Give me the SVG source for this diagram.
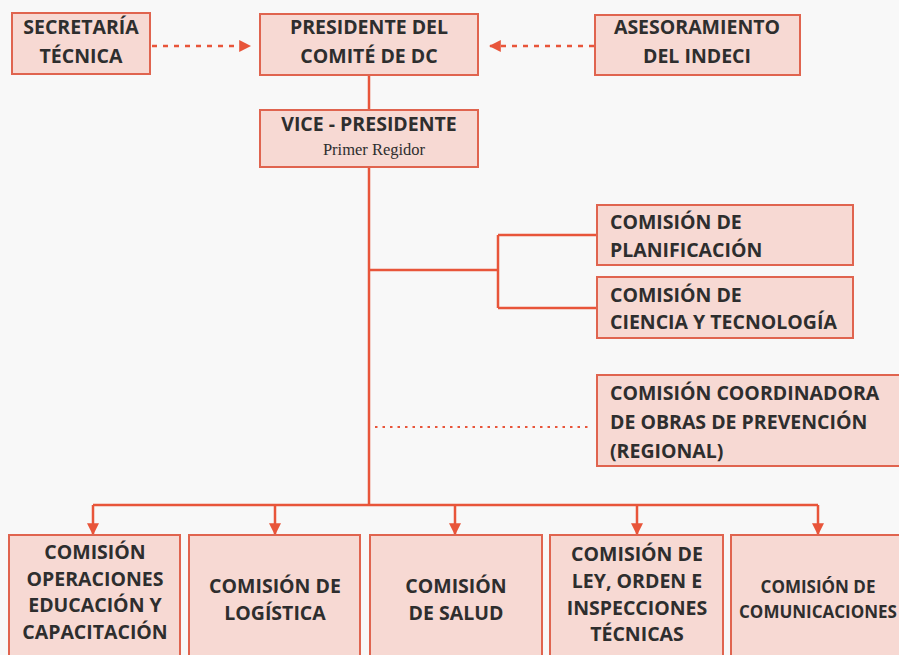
<svg xmlns="http://www.w3.org/2000/svg" width="899" height="655" viewBox="0 0 899 655">
<defs>
<marker id="ad" viewBox="0 0 10 10" refX="9" refY="5" markerWidth="12" markerHeight="12" orient="auto" markerUnits="userSpaceOnUse">
<path d="M0,0 L10,5 L0,10 z" fill="#e8553a"/>
</marker>
</defs>
<style>
.box{fill:#f7d9d3;stroke:#e0644f;stroke-width:2}
.t{font-family:"Open Sans","Liberation Sans",sans-serif;font-weight:bold;font-size:19.5px;fill:#2e2e2e;text-anchor:middle}
.l{text-anchor:start}
.s{font-size:17px}
.sub{font-family:"Liberation Serif",serif;font-size:16.5px;fill:#2e2e2e;text-anchor:middle}
.ln{fill:none;stroke:#e8553a;stroke-width:2.5}
.dash{fill:none;stroke:#e8553a;stroke-width:2.5;stroke-dasharray:5 6}
.dot{fill:none;stroke:#e8553a;stroke-width:2;stroke-dasharray:2.5 5}
</style>
<rect width="899" height="655" fill="#f8f8f8"/>
<g id="connectors">
<path class="dash" d="M152,46 H250" marker-end="url(#ad)"/>
<path class="dash" d="M594,46 H490" marker-end="url(#ad)"/>
<path class="ln" d="M369,76 V109"/>
<path class="ln" d="M369,168 V505"/>
<path class="ln" d="M369,270 H498 M498,235 V308 M498,235 H597 M498,308 H597"/>
<path class="dot" d="M375,427 H592"/>
<path class="ln" d="M93,505 H818"/>
<path class="ln" d="M93,505 V534" marker-end="url(#ad)"/>
<path class="ln" d="M275,505 V534" marker-end="url(#ad)"/>
<path class="ln" d="M455,505 V534" marker-end="url(#ad)"/>
<path class="ln" d="M637,505 V534" marker-end="url(#ad)"/>
<path class="ln" d="M818,505 V534" marker-end="url(#ad)"/>
</g>
<g id="secretaria">
<rect class="box" x="12" y="13" width="138" height="61"/>
<text class="t" x="81" y="34">SECRETARÍA</text>
<text class="t" x="81" y="63">TÉCNICA</text>
</g>
<g id="presidente">
<rect class="box" x="260" y="14" width="218" height="61"/>
<text class="t" x="369" y="34">PRESIDENTE DEL</text>
<text class="t" x="369" y="63">COMITÉ DE DC</text>
</g>
<g id="asesoramiento">
<rect class="box" x="595" y="15" width="205" height="60"/>
<text class="t" x="697" y="34">ASESORAMIENTO</text>
<text class="t" x="697" y="63">DEL INDECI</text>
</g>
<g id="vicepresidente">
<rect class="box" x="260" y="110" width="218" height="57"/>
<text class="t" x="369" y="131">VICE - PRESIDENTE</text>
<text class="sub" x="374" y="155">Primer Regidor</text>
</g>
<g id="planificacion">
<rect class="box" x="597" y="205" width="256" height="60"/>
<text class="t l" x="610" y="229">COMISIÓN DE</text>
<text class="t l" x="610" y="257">PLANIFICACIÓN</text>
</g>
<g id="ciencia">
<rect class="box" x="597" y="277" width="256" height="61"/>
<text class="t l" x="610" y="302">COMISIÓN DE</text>
<text class="t l" x="610" y="329">CIENCIA Y TECNOLOGÍA</text>
</g>
<g id="coordinadora">
<rect class="box" x="597" y="375" width="310" height="91"/>
<text class="t l" x="610" y="400">COMISIÓN COORDINADORA</text>
<text class="t l" x="610" y="429">DE OBRAS DE PREVENCIÓN</text>
<text class="t l" x="610" y="458">(REGIONAL)</text>
</g>
<g id="operaciones">
<rect class="box" x="9" y="535" width="171" height="130"/>
<text class="t" x="95" y="559">COMISIÓN</text>
<text class="t" x="95" y="586">OPERACIONES</text>
<text class="t" x="95" y="612">EDUCACIÓN Y</text>
<text class="t" x="95" y="639">CAPACITACIÓN</text>
</g>
<g id="logistica">
<rect class="box" x="189" y="535" width="171" height="130"/>
<text class="t" x="275" y="593">COMISIÓN DE</text>
<text class="t" x="275" y="620">LOGÍSTICA</text>
</g>
<g id="salud">
<rect class="box" x="370" y="535" width="172" height="130"/>
<text class="t" x="456" y="593">COMISIÓN</text>
<text class="t" x="456" y="620">DE SALUD</text>
</g>
<g id="ley">
<rect class="box" x="550" y="535" width="173" height="130"/>
<text class="t" x="637" y="561">COMISIÓN DE</text>
<text class="t" x="637" y="588">LEY, ORDEN E</text>
<text class="t" x="637" y="615">INSPECCIONES</text>
<text class="t" x="637" y="641">TÉCNICAS</text>
</g>
<g id="comunicaciones">
<rect class="box" x="731" y="535" width="180" height="130"/>
<text class="t s" x="818" y="593">COMISIÓN DE</text>
<text class="t s" x="818" y="618">COMUNICACIONES</text>
</g>
</svg>
